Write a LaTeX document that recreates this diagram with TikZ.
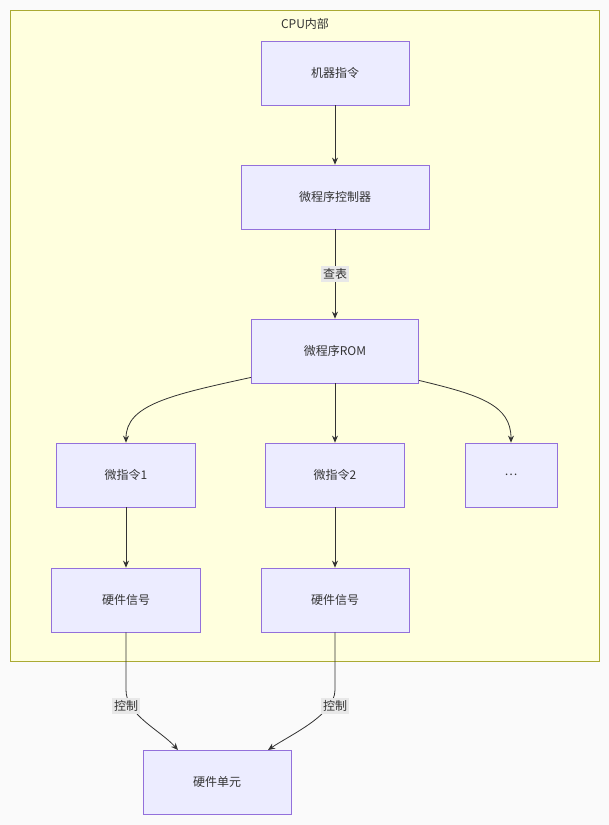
\documentclass[tikz,border=0pt]{standalone}
\usepackage{fontspec}
\setmainfont{Noto Sans CJK SC}
\usetikzlibrary{arrows.meta}
\definecolor{nodefill}{HTML}{ECECFF}
\definecolor{nodeline}{HTML}{9370DB}
\definecolor{clusterfill}{HTML}{FFFFDE}
\definecolor{clusterline}{HTML}{AAAA33}
\definecolor{edgeline}{HTML}{333333}
\definecolor{labelfill}{HTML}{E8E8E8}
\definecolor{pagebg}{HTML}{FAFAFA}
\begin{document}
\begin{tikzpicture}[x=1pt,y=-1pt,font=\fontsize{12}{14}\selectfont,
  box/.style={draw=nodeline,fill=nodefill,line width=0.8pt,minimum height=64pt,text=black!80},
  arrow/.style={-{Stealth[length=7pt,width=6pt]},draw=edgeline,line width=0.8pt},
  elabel/.style={fill=labelfill,inner sep=2pt,text=black!80}]
  \fill[pagebg] (0,0) rectangle (609,825);
  \useasboundingbox (0,0) rectangle (609,825);
  \draw[fill=clusterfill,draw=clusterline,line width=0.8pt] (10,10) rectangle (599,661);
  \node[text=black!80] (title) at (305,24) {CPU内部};

  \node[box,minimum width=148pt] (instr) at (335,73) {机器指令};
  \node[box,minimum width=188pt] (ctrl) at (335,197) {微程序控制器};
  \node[box,minimum width=167pt] (rom) at (335,351) {微程序ROM};
  \node[box,minimum width=139pt] (micro1) at (126,475) {微指令1};
  \node[box,minimum width=139pt] (micro2) at (335,475) {微指令2};
  \node[box,minimum width=92pt] (dots) at (511,475) {\dots};
  \node[box,minimum width=149pt] (sig1) at (126,600) {硬件信号};
  \node[box,minimum width=148pt] (sig2) at (335,600) {硬件信号};
  \node[box,minimum width=148pt] (unit) at (217,782) {硬件单元};

  \draw[arrow] (instr) -- (ctrl);
  \draw[arrow] (ctrl) -- node[elabel] {查表} (rom);
  \draw[arrow] (rom) -- (micro2);
  \draw[arrow] (rom.south west) ++(0,-6) .. controls (170,395) and (126,405) .. (micro1.north);
  \draw[arrow] (rom.south east) ++(0,-3) .. controls (480,395) and (511,405) .. (dots.north);
  \draw[arrow] (micro1) -- (sig1);
  \draw[arrow] (micro2) -- (sig2);
  \draw[arrow] (sig1.south) -- (126,690) .. controls (126,715) and (160,730) .. (178,750);
  \draw[arrow] (sig2.south) -- (335,690) .. controls (335,715) and (290,735) .. (268,750);
  \node[elabel] (lab1) at (126,706) {控制};
  \node[elabel] (lab2) at (335,706) {控制};
\end{tikzpicture}
\end{document}
